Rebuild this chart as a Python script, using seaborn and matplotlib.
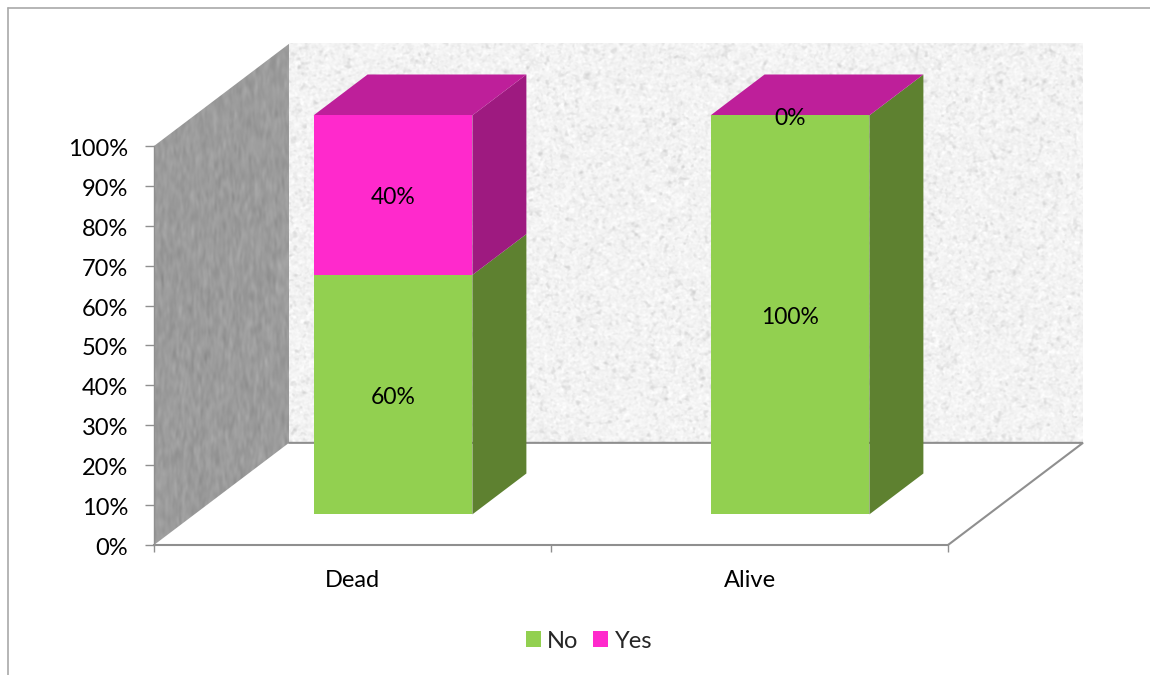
import numpy as np
import pandas as pd
import matplotlib
matplotlib.use("Agg")
import matplotlib.pyplot as plt
from matplotlib.lines import Line2D
from matplotlib.patches import Patch, Polygon
from matplotlib.transforms import Affine2D
import seaborn as sns

# Chart values (percent of each outcome)
outcomes = ["Dead", "Alive"]
no_values = [60, 100]
yes_values = [40, 0]
y_ticks = list(range(0, 101, 10))

# Colours
GREEN, GREEN_SIDE = "#92D050", "#5E8130"
PINK, PINK_SIDE, PINK_TOP = "#FF29CC", "#9E1A80", "#BE1F9A"
AXIS_GREY = "#8f8f8f"

sns.set_theme(style="white")
plt.rcParams["font.family"] = ["Lato", "DejaVu Sans"]

W, H = 1150, 675
fig = plt.figure(figsize=(W / 100, H / 100), dpi=100, facecolor="white")
ax = fig.add_axes([154 / W, (H - 545) / H, 794 / W, 399 / H])

# Oblique projection: how far one full unit of depth moves a point in data space
DEPTH_X, DEPTH_Y = 0.340, 25.6
BAR_WIDTH = 0.40
BAR_NEAR, BAR_FAR = 0.30, 0.70


def project(x, y, depth):
    return x + DEPTH_X * depth, y + DEPTH_Y * depth


def smooth_noise(rng, shape, sigma_y, sigma_x):
    """Gaussian-smoothed noise, normalised to unit variance."""
    fy = np.fft.fftfreq(shape[0])[:, None]
    fx = np.fft.rfftfreq(shape[1])[None, :]
    gain = np.exp(-2 * np.pi ** 2 * ((fy * sigma_y) ** 2 + (fx * sigma_x) ** 2))
    out = np.fft.irfft2(np.fft.rfft2(rng.standard_normal(shape)) * gain, s=shape)
    return out / out.std()


rng = np.random.default_rng(11)

# Back wall: pale granite texture with darker flecks
fleck = smooth_noise(rng, (400, 800), 1.3, 1.3)
granite = 0.955 + 0.014 * smooth_noise(rng, (400, 800), 0.9, 0.9) \
    - 0.035 * np.clip(fleck - 0.4, 0, None)
x0, y0 = project(-0.5, 0, 1)
x1, y1 = project(1.5, 100, 1)
ax.imshow(np.clip(granite, 0, 1), cmap="gray", vmin=0, vmax=1, aspect="auto",
          extent=(x0, x1, y0, y1), origin="lower", interpolation="bilinear",
          zorder=1, clip_on=False)

# Left wall: darker grey with a fine grain, clipped to its parallelogram
grain = 0.61 + 0.016 * smooth_noise(rng, (400, 140), 2.5, 1.0)
wx1, _ = project(-0.5, 0, 1)
left_wall = ax.imshow(np.clip(grain, 0, 1), cmap="gray", vmin=0, vmax=1, aspect="auto",
                      extent=(-0.5, wx1, 0, 125.6), origin="lower",
                      interpolation="bilinear", zorder=1.1)
wall_shape = Polygon([project(-0.5, 0, 0), project(-0.5, 0, 1),
                      project(-0.5, 100, 1), project(-0.5, 100, 0)],
                     closed=True, transform=ax.transData, fill=False, lw=0)
ax.add_patch(wall_shape)
wall_shape.set_clip_on(False)
left_wall.set_clip_box(fig.bbox)
left_wall.set_clip_path(wall_shape)

# Floor outline behind and to the right of the bars
floor = [project(-0.5, 0, 1), project(1.5, 0, 1), project(1.5, 0, 0)]
ax.plot(*zip(*floor), color=AXIS_GREY, lw=1.5, clip_on=False, zorder=1.5,
        solid_joinstyle="miter")

# Front faces of the stacked bars, pushed back along the depth axis
sns.barplot(x=outcomes, y=no_values, color=GREEN, saturation=1, width=BAR_WIDTH,
            ax=ax, zorder=3)
sns.barplot(x=outcomes, y=yes_values, bottom=no_values, color=PINK, saturation=1,
            width=BAR_WIDTH, ax=ax, zorder=3)
dx, dy = project(0, 0, BAR_NEAR)
front = Affine2D().translate(dx, dy) + ax.transData
for bar in ax.patches:
    if bar is wall_shape:
        continue
    bar.set_transform(front)
    bar.set_clip_on(False)
    bar.set_linewidth(0)

# Side and top faces of each bar
for i, (no, yes) in enumerate(zip(no_values, yes_values)):
    right = i + BAR_WIDTH / 2
    left = i - BAR_WIDTH / 2
    for low, high, colour in ((0, no, GREEN_SIDE), (no, no + yes, PINK_SIDE)):
        ax.add_patch(Polygon([project(right, low, BAR_NEAR), project(right, low, BAR_FAR),
                              project(right, high, BAR_FAR), project(right, high, BAR_NEAR)],
                             closed=True, fc=colour, lw=0, zorder=2.9, clip_on=False))
    top = no + yes
    ax.add_patch(Polygon([project(left, top, BAR_NEAR), project(left, top, BAR_FAR),
                          project(right, top, BAR_FAR), project(right, top, BAR_NEAR)],
                         closed=True, fc=PINK_TOP, lw=0, zorder=2.9, clip_on=False))

    # Value labels centred on the front face of each segment
    for low, val in ((0, no), (no, yes)):
        lx, ly = project(i, low + val / 2, BAR_NEAR)
        ax.annotate(f"{val}%", (lx, ly), xytext=(0, -2), textcoords="offset points",
                    ha="center", va="center", fontsize=16.5, color="black",
                    zorder=5, annotation_clip=False)

# Axes, ticks and labels
ax.set_xlim(-0.5, 1.5)
ax.set_ylim(0, 100)
ax.set_yticks(y_ticks)
ax.set_yticklabels([f"{v}%" for v in y_ticks])
ax.set_xticks([0, 1])
ax.set_xticklabels(outcomes)
ax.set_xticks([-0.5, 0.5, 1.5], minor=True)
ax.set_xlabel("")
ax.set_ylabel("")
ax.tick_params(axis="y", which="major", left=True, length=6.5, width=1, color=AXIS_GREY,
               pad=12, labelsize=17, labelcolor="black")
ax.tick_params(axis="x", which="major", bottom=False, length=0, pad=18,
               labelsize=17, labelcolor="black")
ax.tick_params(axis="x", which="minor", bottom=True, length=5, width=1, color=AXIS_GREY)
for label in ax.get_yticklabels():
    label.set_transform(label.get_transform() + Affine2D().translate(0, -1.5))
for side in ("top", "right"):
    ax.spines[side].set_visible(False)
ax.spines["left"].set_color(AXIS_GREY)
ax.spines["left"].set_linewidth(1)
ax.spines["left"].set_zorder(2)
ax.spines["bottom"].set_color(AXIS_GREY)
ax.spines["bottom"].set_linewidth(1.5)

# Legend centred under the plot
handles = [Patch(fc=GREEN, lw=0, label="No"), Patch(fc=PINK, lw=0, label="Yes")]
fig.legend(handles=handles, loc="center", bbox_to_anchor=(589 / W, 1 - 641 / H), ncol=2,
           frameon=False, fontsize=17, handlelength=0.64, handleheight=0.64,
           handletextpad=0.28, columnspacing=0.62, borderpad=0)

# Chart-area border along the top and left edges
frame = dict(color="#a9a9a9", lw=1.2, transform=fig.transFigure)
fig.add_artist(Line2D([8 / W, 8 / W], [0, 1 - 8 / H], **frame))
fig.add_artist(Line2D([8 / W, 1], [1 - 8 / H, 1 - 8 / H], **frame))

fig.savefig("out.png", dpi=100, facecolor="white")
